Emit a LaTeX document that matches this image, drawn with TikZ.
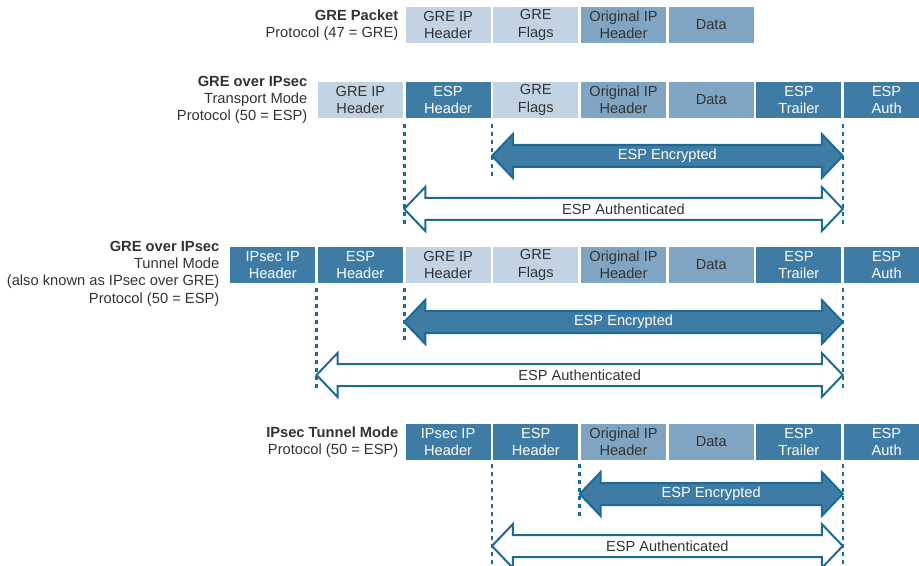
\documentclass[tikz,border=0pt]{standalone}
\usepackage{fontspec}
\setmainfont{Liberation Sans}
\definecolor{lightb}{HTML}{C2D4E3}
\definecolor{midb}{HTML}{80A5C3}
\definecolor{darkb}{HTML}{3E7BA5}
\definecolor{edgeb}{HTML}{1C6B96}
\definecolor{txt}{HTML}{333333}
\tikzset{
  box/.style={minimum width=85bp, minimum height=36bp, inner sep=0pt, align=center,
    font=\fontsize{14.6bp}{17.5bp}\selectfont},
  lbox/.style={box, fill=lightb, text=txt},
  mbox/.style={box, fill=midb, text=txt},
  dbox/.style={box, fill=darkb, text=white},
  lbl/.style={anchor=east, align=right, inner sep=0pt, text=txt,
    font=\fontsize{14.7bp}{17.3bp}\selectfont},
  dashline/.style={draw=edgeb, line width=2.5bp, dash pattern=on 4bp off 4bp},
  encband/.style={draw=edgeb, fill=darkb, line width=2bp, line join=miter},
  authband/.style={draw=edgeb, fill=white, line width=2bp, line join=miter},
  bandlbl/.style={inner sep=0pt, font=\fontsize{14.6bp}{17bp}\selectfont}
}
\newcommand{\espband}[4]{%
  \draw[#4] (#1,#3) -- (#1+21,#3-22) -- (#1+21,#3-11) -- (#2-21,#3-11) -- (#2-21,#3-22)
    -- (#2,#3) -- (#2-21,#3+22) -- (#2-21,#3+11) -- (#1+21,#3+11) -- (#1+21,#3+22) -- cycle;}
\begin{document}
\begin{tikzpicture}[x=1bp,y=-1bp]
\useasboundingbox (0,0) rectangle (919,566);
\clip (0,0) rectangle (919,566);

% ---------- Row 1: GRE packet ----------
\node[lbl] (l1) at (398.5,25) {\textbf{GRE Packet}\\Protocol (47 = GRE)};
\node[lbox] (r1a) at (448.1,25) {GRE IP\\Header};
\node[lbox] (r1b) at (535.8,25) {GRE\\Flags};
\node[mbox] (r1c) at (623.5,25) {Original IP\\Header};
\node[mbox] (r1d) at (711.2,25) {Data};

% ---------- Row 2: GRE over IPsec transport ----------
\node[lbl] (l2) at (307.5,100) {\textbf{GRE over IPsec}\\Transport Mode\\Protocol (50 = ESP)};
\node[lbox] (r2a) at (360.4,100) {GRE IP\\Header};
\node[dbox] (r2b) at (448.1,100) {ESP\\Header};
\node[lbox] (r2c) at (535.8,100) {GRE\\Flags};
\node[mbox] (r2d) at (623.5,100) {Original IP\\Header};
\node[mbox] (r2e) at (711.2,100) {Data};
\node[dbox] (r2f) at (798.9,100) {ESP\\Trailer};
\node[dbox] (r2g) at (886.6,100) {ESP\\Auth};

\coordinate (d2a1) at (404.25,124); \coordinate (d2a2) at (404.25,228);
\coordinate (d2b1) at (491.95,124); \coordinate (d2b2) at (491.95,178);
\coordinate (d2c1) at (842.75,124); \coordinate (d2c2) at (842.75,228);
\draw[dashline] (d2a1) -- (d2a2);
\draw[dashline] (d2b1) -- (d2b2);
\draw[dashline] (d2c1) -- (d2c2);
\espband{491.95}{842.75}{156}{encband}
\node[bandlbl, text=white] (e2) at (667.35,156) {ESP Encrypted};
\espband{404.25}{842.75}{209}{authband}
\node[bandlbl, text=txt] (a2) at (623.5,209) {ESP Authenticated};

% ---------- Row 3: GRE over IPsec tunnel ----------
\node[lbl] (l3) at (219.5,273.5) {\textbf{GRE over IPsec}\\Tunnel Mode\\(also known as IPsec over GRE)\\Protocol (50 = ESP)};
\node[dbox] (r3a) at (272.7,265) {IPsec IP\\Header};
\node[dbox] (r3b) at (360.4,265) {ESP\\Header};
\node[lbox] (r3c) at (448.1,265) {GRE IP\\Header};
\node[lbox] (r3d) at (535.8,265) {GRE\\Flags};
\node[mbox] (r3e) at (623.5,265) {Original IP\\Header};
\node[mbox] (r3f) at (711.2,265) {Data};
\node[dbox] (r3g) at (798.9,265) {ESP\\Trailer};
\node[dbox] (r3h) at (886.6,265) {ESP\\Auth};

\coordinate (d3a1) at (316.55,288); \coordinate (d3a2) at (316.55,390);
\coordinate (d3b1) at (404.25,288); \coordinate (d3b2) at (404.25,341);
\coordinate (d3c1) at (842.75,288); \coordinate (d3c2) at (842.75,390);
\draw[dashline] (d3a1) -- (d3a2);
\draw[dashline] (d3b1) -- (d3b2);
\draw[dashline] (d3c1) -- (d3c2);
\espband{404.25}{842.75}{322}{encband}
\node[bandlbl, text=white] (e3) at (623.5,322) {ESP Encrypted};
\espband{316.55}{842.75}{375}{authband}
\node[bandlbl, text=txt] (a3) at (579.65,375) {ESP Authenticated};

% ---------- Row 4: IPsec tunnel ----------
\node[lbl] (l4) at (398.5,442) {\textbf{IPsec Tunnel Mode}\\Protocol (50 = ESP)};
\node[dbox] (r4a) at (448.1,442) {IPsec IP\\Header};
\node[dbox] (r4b) at (535.8,442) {ESP\\Header};
\node[mbox] (r4c) at (623.5,442) {Original IP\\Header};
\node[mbox] (r4d) at (711.2,442) {Data};
\node[dbox] (r4e) at (798.9,442) {ESP\\Trailer};
\node[dbox] (r4f) at (886.6,442) {ESP\\Auth};

\coordinate (d4a1) at (491.95,464); \coordinate (d4a2) at (491.95,570);
\coordinate (d4b1) at (579.65,464); \coordinate (d4b2) at (579.65,516);
\coordinate (d4c1) at (842.75,464); \coordinate (d4c2) at (842.75,570);
\draw[dashline] (d4a1) -- (d4a2);
\draw[dashline] (d4b1) -- (d4b2);
\draw[dashline] (d4c1) -- (d4c2);
\espband{579.65}{842.75}{494}{encband}
\node[bandlbl, text=white] (e4) at (711.2,494) {ESP Encrypted};
\espband{491.95}{842.75}{546}{authband}
\node[bandlbl, text=txt] (a4) at (667.35,546) {ESP Authenticated};
\end{tikzpicture}
\end{document}
